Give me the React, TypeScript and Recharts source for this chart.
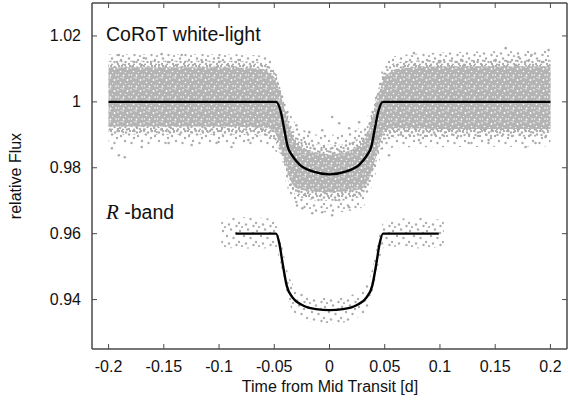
import { ComposedChart, Area, Line, Scatter, XAxis, YAxis } from 'recharts';

// CoRoT point cloud envelopes (outer = sparse fringe, mid, dense core)
const coX = [-0.2, -0.1, -0.06, -0.055, -0.05, -0.045, -0.04, -0.035, -0.03, -0.02, -0.01, 0, 0.01, 0.02, 0.03, 0.035, 0.04, 0.045, 0.05, 0.055, 0.06, 0.1, 0.2];
const coOuterHi = [1.0145, 1.0145, 1.014, 1.013, 1.0115, 1.007, 1.001, 0.996, 0.993, 0.991, 0.99, 0.99, 0.99, 0.991, 0.993, 0.996, 1.001, 1.007, 1.0115, 1.013, 1.014, 1.015, 1.0155];
const coOuterLo = [0.987, 0.9868, 0.9866, 0.9863, 0.9855, 0.982, 0.976, 0.971, 0.968, 0.967, 0.9665, 0.9665, 0.9665, 0.967, 0.968, 0.971, 0.976, 0.982, 0.9855, 0.986, 0.9862, 0.9862, 0.9865];
const coMidHi = [1.0125, 1.0125, 1.012, 1.011, 1.0095, 1.005, 0.999, 0.9935, 0.99, 0.988, 0.987, 0.987, 0.987, 0.988, 0.99, 0.9935, 0.999, 1.005, 1.0095, 1.011, 1.012, 1.0128, 1.0128];
const coMidLo = [0.99, 0.99, 0.9898, 0.9895, 0.9885, 0.9845, 0.979, 0.974, 0.9715, 0.9705, 0.97, 0.97, 0.97, 0.9705, 0.9715, 0.974, 0.979, 0.9845, 0.9885, 0.989, 0.9892, 0.9893, 0.9895];
const coDenseHi = [1.0105, 1.0105, 1.01, 1.009, 1.0075, 1.003, 0.997, 0.991, 0.9875, 0.9855, 0.9845, 0.984, 0.9845, 0.9855, 0.9875, 0.991, 0.997, 1.003, 1.0075, 1.009, 1.01, 1.0108, 1.0108];
const coDenseLo = [0.9925, 0.9925, 0.9922, 0.992, 0.991, 0.987, 0.981, 0.976, 0.9738, 0.973, 0.9728, 0.9725, 0.9728, 0.973, 0.9738, 0.976, 0.981, 0.987, 0.991, 0.992, 0.992, 0.9918, 0.9918];

// stray CoRoT points outside the cloud
const strayX = [-0.1907, -0.1681, -0.1519, -0.1338, -0.1158, -0.1005, -0.0824, -0.197, -0.1907, -0.1853, -0.17, -0.1456, -0.1248, -0.1005, -0.0887, -0.0734, 0.0764, 0.1595, 0.1983, 0.1829, 0.1712, 0.1504, 0.1197, 0.099, 0.0539, 0.081, 0.126, 0.1441, 0.1775, 0.1865, 0.1955, -0.0246, -0.0156, -0.0066, 0.0024, 0.0178, 0.0088, -0.03, -0.03, -0.0183, -0.0066, 0.0088, 0.0178, 0.0268, 0.0024];
const strayY = [1.0142, 1.0133, 1.0145, 1.0142, 1.0127, 1.0133, 1.0127, 0.9859, 0.9838, 0.9832, 0.9863, 0.9875, 0.9869, 0.9878, 0.9863, 0.9884, 1.0148, 1.0163, 1.0157, 1.0142, 1.0136, 1.0127, 1.0127, 1.012, 0.9838, 0.9884, 0.9875, 0.9884, 0.9863, 0.9875, 0.9893, 0.9677, 0.9662, 0.9665, 0.9656, 0.968, 0.9702, 0.9696, 0.9929, 0.9908, 0.9914, 0.9935, 0.992, 0.9938, 0.9954];

// CoRoT transit model
const coModelX = [-0.2, -0.0484, -0.0439, -0.0409, -0.0379, -0.0334, -0.0273, -0.0153, 0, 0.0153, 0.0273, 0.0334, 0.0379, 0.0409, 0.0439, 0.0484, 0.2];
const coModelY = [1.0, 1.0, 0.9967, 0.9916, 0.9865, 0.9835, 0.981, 0.9789, 0.978, 0.9789, 0.981, 0.9835, 0.9865, 0.9916, 0.9967, 1.0, 1.0];

// R-band point envelope
const rX = [-0.098, -0.085, -0.06, -0.05, -0.046, -0.042, -0.038, -0.033, -0.025, -0.012, 0, 0.012, 0.025, 0.033, 0.038, 0.042, 0.046, 0.05, 0.06, 0.085, 0.1035];
const rHi = [0.9645, 0.965, 0.9648, 0.964, 0.961, 0.955, 0.9485, 0.9445, 0.942, 0.941, 0.9405, 0.941, 0.942, 0.9445, 0.9485, 0.955, 0.961, 0.964, 0.9645, 0.9648, 0.964];
const rLo = [0.956, 0.9555, 0.9555, 0.956, 0.953, 0.947, 0.9405, 0.9365, 0.9345, 0.933, 0.9328, 0.933, 0.9345, 0.9365, 0.9405, 0.947, 0.953, 0.956, 0.956, 0.9555, 0.956];

// R-band transit model
const rModelX = [-0.085, -0.0484, -0.0454, -0.0424, -0.0388, -0.0334, -0.0244, -0.0123, 0, 0.0123, 0.0244, 0.0334, 0.0388, 0.0424, 0.0454, 0.0484, 0.099];
const rModelY = [0.96, 0.96, 0.957, 0.9509, 0.9443, 0.9406, 0.9383, 0.9371, 0.9368, 0.9371, 0.9383, 0.9406, 0.9443, 0.9509, 0.957, 0.96, 0.96];

const xTicks = [-0.2, -0.15, -0.1, -0.05, 0, 0.05, 0.1, 0.15, 0.2];
const yTicks = [0.94, 0.96, 0.98, 1, 1.02];

const coBand = coX.map((x, i) => ({
  x,
  outer: [coOuterLo[i], coOuterHi[i]],
  mid: [coMidLo[i], coMidHi[i]],
  dense: [coDenseLo[i], coDenseHi[i]],
}));
const rBand = rX.map((x, i) => ({ x, band: [rLo[i], rHi[i]] }));
const strays = strayX.map((x, i) => ({ x, y: strayY[i] }));
const coModel = coModelX.map((x, i) => ({ x, y: coModelY[i] }));
const rModel = rModelX.map((x, i) => ({ x, y: rModelY[i] }));

const W = 568;
const H = 402;
const PL = 92;
const PR = 567;
const PT = 3;
const PB = 349;
const FONT = '"Liberation Sans", Arial, Helvetica, sans-serif';
const AXIS = '#4a4a4a';
const DOT = '#ababab';
const TICK = 5;

// speckle layouts for the point-cloud fills: [cx, cy, r]
const denseHoles = [[1, 2, 0.8], [6, 1, 0.7], [10.5, 3, 0.9], [3.5, 5.5, 0.8], [8.5, 6.5, 0.6], [12, 9, 0.8], [1.5, 9, 0.7], [6.5, 9.5, 0.9], [4, 0.5, 0.5]];
const midDots = [[1, 1, 1.2], [5, 2.5, 1.2], [9, 1, 1.2], [2.5, 5, 1.2], [7, 6, 1.2], [10, 8.5, 1.2], [0.5, 9, 1.2], [4.5, 10, 1.2], [8, 12, 1.2], [2, 12.5, 1.1]];
const sparseDots = [[2, 3, 1.2], [10, 1.5, 1.2], [15, 5, 1.2], [6, 8, 1.2], [12.5, 10, 1.2], [1, 14, 1.2], [8, 15.5, 1.2], [15.5, 17, 1.2], [4, 18, 1.1]];

const fmt = (v: number) => String(v);

const BottomTick = ({ x, payload }: any) => (
  <g>
    <line x1={x} x2={x} y1={PB} y2={PB - TICK} stroke={AXIS} strokeWidth={1} />
    <text x={x} y={366} textAnchor="middle" dominantBaseline="central" fontFamily={FONT} fontSize={16} fill="#111">
      {fmt(payload.value)}
    </text>
  </g>
);
const TopTick = ({ x }: any) => <line x1={x} x2={x} y1={PT} y2={PT + TICK} stroke={AXIS} strokeWidth={1} />;
const LeftTick = ({ y, payload }: any) => (
  <g>
    <line x1={PL} x2={PL + TICK} y1={y} y2={y} stroke={AXIS} strokeWidth={1} />
    <text x={81} y={y} textAnchor="end" dominantBaseline="central" fontFamily={FONT} fontSize={16} fill="#111">
      {fmt(payload.value)}
    </text>
  </g>
);
const RightTick = ({ y }: any) => <line x1={PR} x2={PR - TICK} y1={y} y2={y} stroke={AXIS} strokeWidth={1} />;

const Dot = (p: any) => <circle cx={p.cx} cy={p.cy} r={1.3} fill={DOT} />;

function Patterns() {
  return (
    <svg width={0} height={0} style={{ position: 'absolute' }}>
      <defs>
        <pattern id="ptDense" patternUnits="userSpaceOnUse" width={13} height={11}>
          <rect width={13} height={11} fill="#b4b4b4" />
          {denseHoles.map(([cx, cy, r], i) => (
            <circle key={i} cx={cx} cy={cy} r={r} fill="#fff" />
          ))}
        </pattern>
        <pattern id="ptMid" patternUnits="userSpaceOnUse" width={11} height={13}>
          {midDots.map(([cx, cy, r], i) => (
            <circle key={i} cx={cx} cy={cy} r={r} fill={DOT} />
          ))}
        </pattern>
        <pattern id="ptSparse" patternUnits="userSpaceOnUse" width={17} height={19}>
          {sparseDots.map(([cx, cy, r], i) => (
            <circle key={i} cx={cx} cy={cy} r={r} fill={DOT} />
          ))}
        </pattern>
      </defs>
    </svg>
  );
}

export default function App() {
  return (
    <div style={{ position: 'relative', width: W, height: H, background: '#fff' }}>
      <style>{'body{margin:0}'}</style>
      <Patterns />
      <ComposedChart width={W} height={H} margin={{ top: 2, right: 0, bottom: 0, left: 0 }}>
        <XAxis
          dataKey="x"
          type="number"
          domain={[-0.215, 0.215]}
          ticks={xTicks}
          height={53}
          tick={<BottomTick />}
          tickLine={false}
          axisLine={{ stroke: AXIS, strokeWidth: 1.5 }}
          allowDataOverflow
        />
        <XAxis
          xAxisId="top"
          orientation="top"
          dataKey="x"
          type="number"
          domain={[-0.215, 0.215]}
          ticks={xTicks}
          height={1}
          tick={<TopTick />}
          tickLine={false}
          axisLine={{ stroke: AXIS, strokeWidth: 1.5 }}
          allowDataOverflow
        />
        <YAxis
          type="number"
          domain={[0.925, 1.03]}
          ticks={yTicks}
          width={92}
          tick={<LeftTick />}
          tickLine={false}
          axisLine={{ stroke: AXIS, strokeWidth: 1.5 }}
          allowDataOverflow
        />
        <YAxis
          yAxisId="right"
          orientation="right"
          type="number"
          domain={[0.925, 1.03]}
          ticks={yTicks}
          width={1}
          tick={<RightTick />}
          tickLine={false}
          axisLine={{ stroke: AXIS, strokeWidth: 1.5 }}
          allowDataOverflow
        />
        <Area data={coBand} dataKey="outer" type="monotone" stroke="none" fill="url(#ptSparse)" fillOpacity={1} isAnimationActive={false} />
        <Area data={coBand} dataKey="mid" type="monotone" stroke="none" fill="url(#ptMid)" fillOpacity={1} isAnimationActive={false} />
        <Area data={coBand} dataKey="dense" type="monotone" stroke="none" fill="url(#ptDense)" fillOpacity={1} isAnimationActive={false} />
        <Area data={rBand} dataKey="band" type="monotone" stroke="none" fill="url(#ptSparse)" fillOpacity={1} isAnimationActive={false} />
        <Scatter data={strays} dataKey="y" shape={Dot} isAnimationActive={false} />
        <Line data={coModel} dataKey="y" type="monotone" stroke="#000" strokeWidth={2.4} dot={false} isAnimationActive={false} />
        <Line data={rModel} dataKey="y" type="monotone" stroke="#000" strokeWidth={2.4} dot={false} isAnimationActive={false} />
      </ComposedChart>
      <svg width={W} height={H} style={{ position: 'absolute', left: 0, top: 0, pointerEvents: 'none' }}>
        <text x={106} y={34} dominantBaseline="central" fontFamily={FONT} fontSize={19.5} fill="#111">
          CoRoT white-light
        </text>
        <text x={106} y={212} dominantBaseline="central" fontFamily={FONT} fontSize={19.5} fill="#111">
          <tspan fontFamily='"Liberation Serif", "Times New Roman", serif' fontStyle="italic" fontSize={21}>R</tspan>
          <tspan> -band</tspan>
        </text>
        <text x={330} y={386} textAnchor="middle" dominantBaseline="central" fontFamily={FONT} fontSize={16} fill="#111">
          Time from Mid Transit [d]
        </text>
        <text
          x={15}
          y={176}
          textAnchor="middle"
          dominantBaseline="central"
          transform="rotate(-90 15 176)"
          fontFamily={FONT}
          fontSize={16}
          fill="#111"
        >
          relative Flux
        </text>
      </svg>
    </div>
  );
}
